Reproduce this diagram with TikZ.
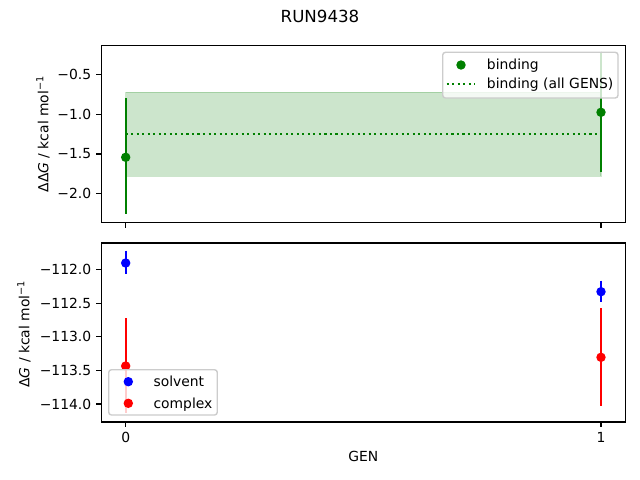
\documentclass[tikz,border=0pt]{standalone}
\usepackage{fontspec}
\setmainfont{DejaVu Sans}
\definecolor{mplgreen}{HTML}{008000}
\definecolor{mplblue}{HTML}{0000FF}
\definecolor{mplred}{HTML}{FF0000}
\definecolor{legedge}{HTML}{CCCCCC}
\begin{document}
\begin{tikzpicture}[x=0.72pt,y=-0.72pt,
  axesbox/.style={draw=black,line width=0.8pt},
  tickmark/.style={draw=black,line width=0.8pt},
  ticklab/.style={font=\fontsize{10}{12}\selectfont,inner sep=0pt},
  errline/.style={line width=1.5pt},
  dot/.style={radius=3.4pt},
  legbox/.style={draw=legedge,line width=1pt,fill=white,fill opacity=0.8,rounded corners=2pt},
  legtext/.style={font=\fontsize{10}{12}\selectfont,inner sep=0pt,anchor=base west},
  axlab/.style={font=\fontsize{10}{12}\selectfont,inner sep=0pt}
]
\useasboundingbox (0,0) rectangle (640,480);
\fill[white] (0,0) rectangle (640,480);

% ---------- title ----------
\node[font=\fontsize{12}{14}\selectfont,inner sep=0pt] (title) at (320,16) {RUN9438};

% ---------- top axes ----------
\fill[mplgreen,fill opacity=0.2] (125.7,92.3) rectangle (601,176.3);
\draw[mplgreen,opacity=0.2,line width=1pt] (125.7,92.3) rectangle (601,176.3);
\draw[mplgreen,line width=1.5pt,dash pattern=on 1.5pt off 2.475pt] (125.7,133.7) -- (601,133.7);
\draw[mplgreen,errline] (125.7,98.3) -- (125.7,214.3);
\fill[mplgreen] (125.7,157.3) circle[dot];
\draw[mplgreen,errline] (601,51.7) -- (601,171.7);
\fill[mplgreen] (601,112.3) circle[dot];
\draw[axesbox] (101.3,45.3) rectangle (625.3,222.7);
% y ticks
\foreach \yy/\lab in {74.3/{−0.5},114.3/{−1.0},154/{−1.5},193.7/{−2.0}}{
  \draw[tickmark] (101.3,\yy) -- (96.4,\yy);
  \node[ticklab,anchor=east] at (91.5,\yy) {\lab};
}
% x ticks (no labels)
\foreach \xx in {125.7,601}{
  \draw[tickmark] (\xx,222.7) -- (\xx,227.6);
}
\node[axlab,rotate=90] (ylabtop) at (43,134) {ΔΔ\textit{G} / kcal mol\textsuperscript{−1}};
% legend
\draw[legbox] (442.7,52.3) rectangle (618,98);
\fill[mplgreen] (461,65) circle[dot];
\node[legtext] (lbind) at (486.7,69.5) {binding};
\draw[mplgreen,line width=1.5pt,dash pattern=on 1.5pt off 2.475pt] (446.7,84.3) -- (475,84.3);
\node[legtext] (lball) at (486.7,88.8) {binding (all GENS)};

% ---------- bottom axes ----------
\draw[mplblue,errline] (125.7,250.7) -- (125.7,273.7);
\fill[mplblue] (125.7,263) circle[dot];
\draw[mplred,errline] (125.7,318) -- (125.7,413.3);
\fill[mplred] (125.7,366) circle[dot];
\draw[mplblue,errline] (601,280.7) -- (601,301.7);
\fill[mplblue] (601,291.7) circle[dot];
\draw[mplred,errline] (601,308) -- (601,406);
\fill[mplred] (601,357.3) circle[dot];
\draw[axesbox] (101.3,243) rectangle (625.3,422);
\foreach \yy/\lab in {269.7/{−112.0},303.3/{−112.5},336.9/{−113.0},370.4/{−113.5},404/{−114.0}}{
  \draw[tickmark] (101.3,\yy) -- (96.4,\yy);
  \node[ticklab,anchor=east] at (91.5,\yy) {\lab};
}
\draw[tickmark] (125.7,422) -- (125.7,426.9);
\node[ticklab,anchor=north] (xt0) at (125.7,431.8) {0};
\draw[tickmark] (601,422) -- (601,426.9);
\node[ticklab,anchor=north] (xt1) at (601,431.8) {1};
\node[axlab,rotate=90] (ylabbot) at (24,334) {Δ\textit{G} / kcal mol\textsuperscript{−1}};
\node[axlab,anchor=base] (xlab) at (363.3,461.5) {GEN};
% legend
\draw[legbox] (108.7,369.7) rectangle (217.3,415);
\fill[mplblue] (128.3,381.7) circle[dot];
\node[legtext] (lsolv) at (153.3,386.5) {solvent};
\fill[mplred] (128.3,403.3) circle[dot];
\node[legtext] (lcomp) at (153.3,408) {complex};
\end{tikzpicture}
\end{document}
